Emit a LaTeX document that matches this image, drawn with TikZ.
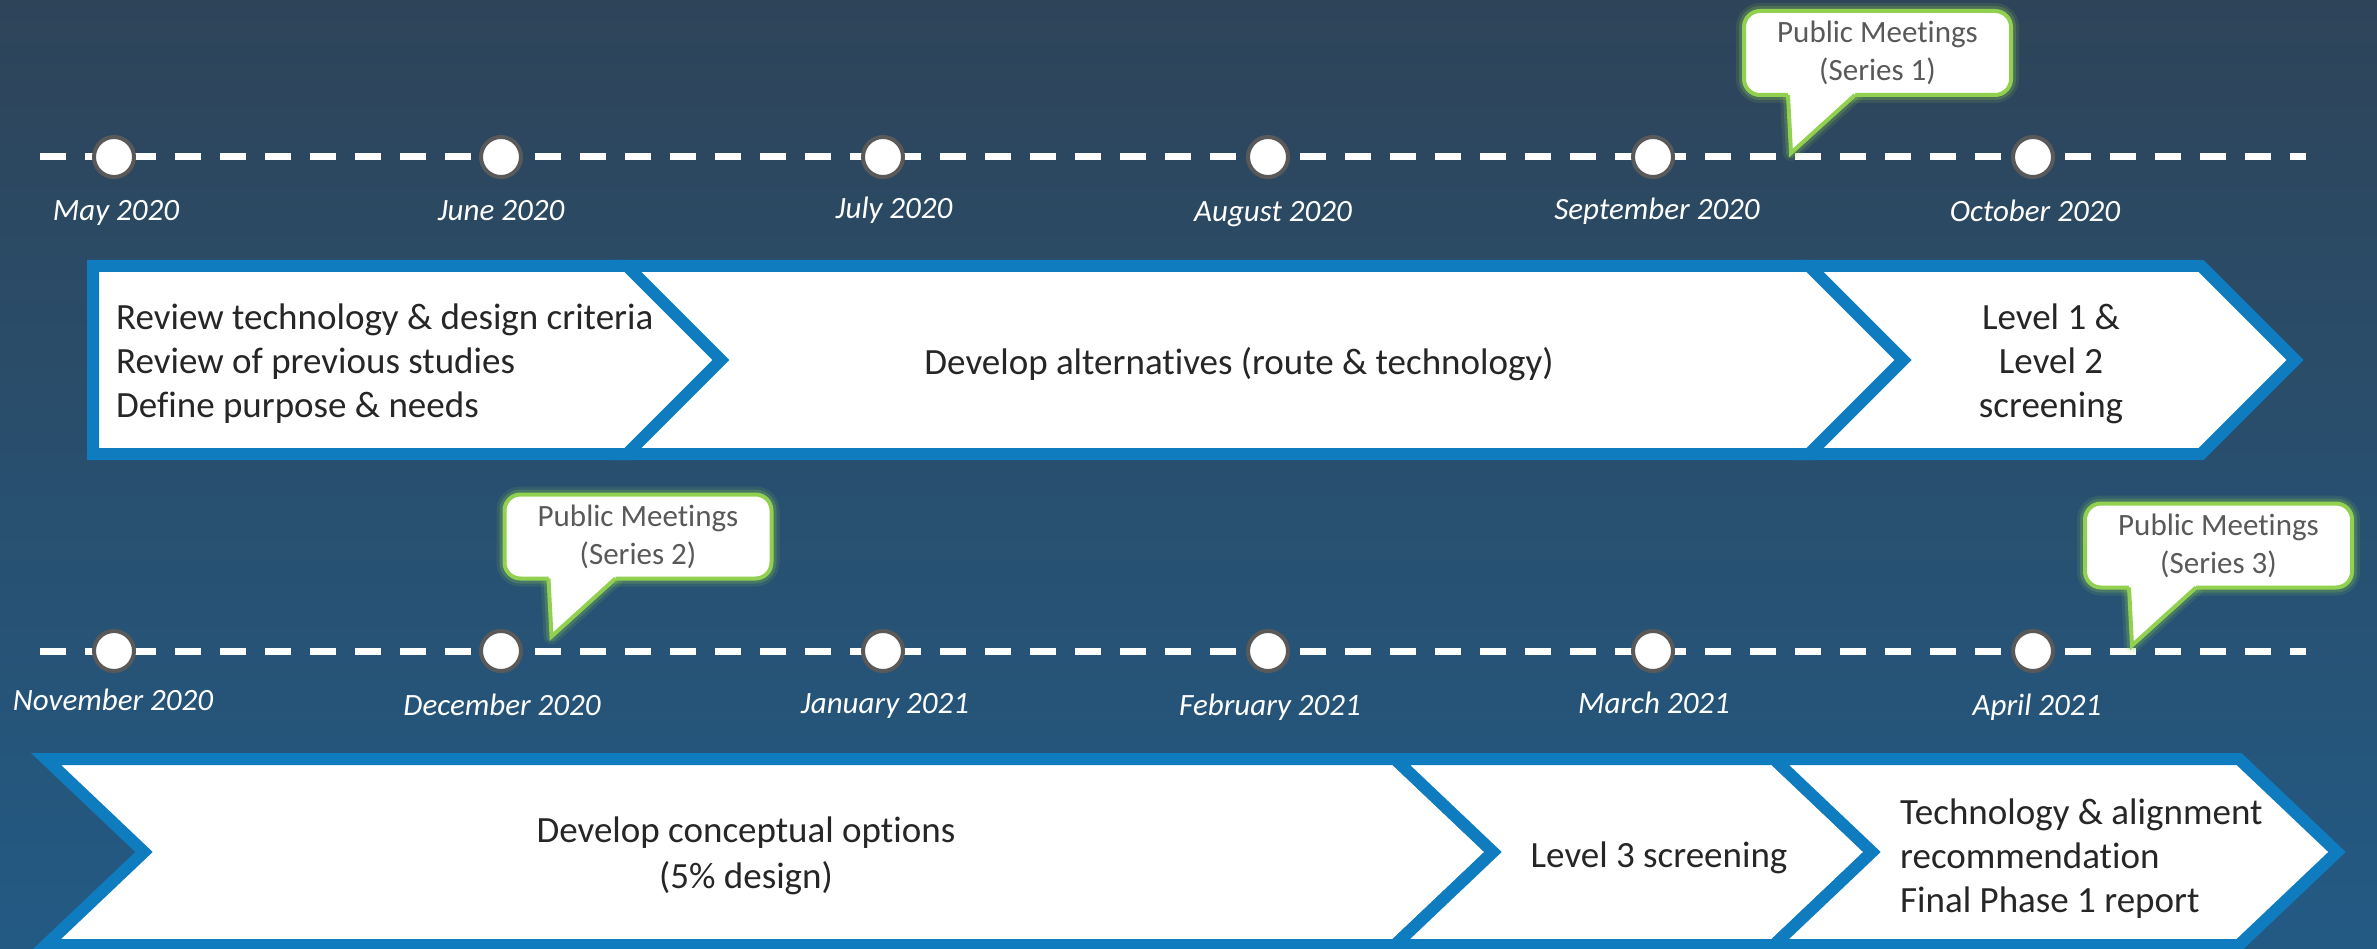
\documentclass[tikz,border=0pt]{standalone}
\usepackage{fontspec}
\setmainfont{Carlito}[Ligatures={NoCommon}]
\definecolor{bgtop}{HTML}{2E4459}
\definecolor{bgbot}{HTML}{235A84}
\definecolor{stripc}{HTML}{4A86BE}
\definecolor{chev}{HTML}{0F7CC0}
\definecolor{ink}{HTML}{262626}
\definecolor{pmgreen}{HTML}{92D050}
\definecolor{pmgray}{HTML}{595959}
\definecolor{dotgray}{HTML}{595959}
\newcommand\pmcallout[4]{%
  % #1 name, #2 center x, #3 center y, #4 text
  \pgfmathsetmacro\pmL{#2-133.5}%
  \pgfmathsetmacro\pmB{#3+42}%
  \pgfmathsetmacro\pmA{\pmL+44}%
  \pgfmathsetmacro\pmC{\pmL+111}%
  \pgfmathsetmacro\pmTx{\pmL+47}%
  \pgfmathsetmacro\pmTy{\pmB+58}%
  \pgfmathsetmacro\pmBu{\pmB-4}%
  \coordinate (#1a) at (\pmA,\pmB);
  \coordinate (#1b) at (\pmC,\pmB);
  \coordinate (#1tip) at (\pmTx,\pmTy);
  \draw[glowA] (#1a) -- (#1tip) -- (#1b);
  \draw[glowB] (#1a) -- (#1tip) -- (#1b);
  \node[pmbox] (#1) at (#2,#3) {#4};
  \fill[white] (\pmA,\pmBu) -- (#1a) -- (#1tip) -- (#1b) -- (\pmC,\pmBu) -- cycle;
  \draw[pmline] (#1a) -- (#1tip) -- (#1b);
}
\begin{document}
\begin{tikzpicture}[x=1pt,y=-1pt,
  chevron/.style={draw=chev, line width=12pt, fill=white, line join=miter},
  ctext/.style={text=ink, font=\fontsize{37}{44}\selectfont, inner sep=0pt},
  dashline/.style={draw=white, line width=7pt, dash pattern=on 25.5pt off 19.5pt},
  dot/.style={circle, draw=dotgray, fill=white, line width=4pt, minimum size=40pt, inner sep=0pt},
  month/.style={text=white, font=\fontsize{31}{37}\selectfont\itshape, inner sep=0pt, anchor=base},
  glowA/.style={draw=pmgreen, line width=16pt, draw opacity=0.12, line join=round, line cap=round},
  glowB/.style={draw=pmgreen, line width=10pt, draw opacity=0.22, line join=round, line cap=round},
  pmline/.style={draw=pmgreen, line width=4pt, line join=miter},
  pmbox/.style={rectangle, rounded corners=16pt, draw=pmgreen, line width=4pt, fill=white,
    minimum width=267pt, minimum height=84pt, inner sep=0pt, align=center, text=pmgray,
    font=\fontsize{31}{38}\selectfont,
    preaction={draw=pmgreen, line width=16pt, draw opacity=0.12},
    preaction={draw=pmgreen, line width=10pt, draw opacity=0.22}},
]
\useasboundingbox (0,0) rectangle (2377,949);
\shade[top color=bgtop, bottom color=bgbot] (0,0) rectangle (2377,949);
\shade[left color=bgtop, middle color=stripc, right color=bgtop] (0,0) rectangle (1800,4);

% ---------- top timeline ----------
\coordinate (t1s) at (40,157);
\coordinate (t1e) at (2306,157);
\draw[dashline] (t1s) -- (t1e);
\node[dot] (may) at (114,157) {};
\node[dot] (jun) at (501,157) {};
\node[dot] (jul) at (883,157) {};
\node[dot] (aug) at (1268,157) {};
\node[dot] (sep) at (1653,157) {};
\node[dot] (oct) at (2033,157) {};
\node[month] (lmay) at (116,221) {May 2020};
\node[month] (ljun) at (501,221) {June 2020};
\node[month] (ljul) at (894,219) {July 2020};
\node[month] (laug) at (1273,222) {August 2020};
\node[month] (lsep) at (1657,220) {September 2020};
\node[month] (loct) at (2035,222) {October 2020};

% ---------- top chevrons ----------
\draw[chevron] (93,266) -- (627,266) -- (721,360) -- (627,454) -- (93,454) -- cycle;
\draw[chevron] (627,266) -- (1809,266) -- (1903,360) -- (1809,454) -- (627,454) -- (721,360) -- cycle;
\draw[chevron] (1809,266) -- (2201,266) -- (2295,360) -- (2201,454) -- (1809,454) -- (1903,360) -- cycle;
\node[ctext, align=left, anchor=west] (c1) at (116,364) {Review technology \& design criteria\\Review of previous studies\\Define purpose \& needs};
\node[ctext] (c2) at (1239,364) {Develop alternatives (route \& technology)};
\node[ctext, align=center] (c3) at (2051,364) {Level 1 \&\\Level 2\\screening};

% ---------- bottom timeline ----------
\coordinate (t2s) at (40,651);
\coordinate (t2e) at (2306,651);
\draw[dashline] (t2s) -- (t2e);
\node[dot] (nov) at (114,651) {};
\node[dot] (dec) at (501,651) {};
\node[dot] (jan) at (883,651) {};
\node[dot] (feb) at (1268,651) {};
\node[dot] (mar) at (1653,651) {};
\node[dot] (apr) at (2033,651) {};
\node[month] (lnov) at (113,710) {November 2020};
\node[month] (ldec) at (502,715) {December 2020};
\node[month] (ljan) at (885,713) {January 2021};
\node[month] (lfeb) at (1270,715) {February 2021};
\node[month] (lmar) at (1654,713) {March 2021};
\node[month] (lapr) at (2037,715) {April 2021};

% ---------- bottom chevrons ----------
\draw[chevron] (46,759) -- (1395,759) -- (1493,852) -- (1395,945) -- (46,945) -- (144,852) -- cycle;
\draw[chevron] (1395,759) -- (1774,759) -- (1872,852) -- (1774,945) -- (1395,945) -- (1493,852) -- cycle;
\draw[chevron] (1774,759) -- (2239,759) -- (2337,852) -- (2239,945) -- (1774,945) -- (1872,852) -- cycle;
\node[ctext, align=center, font=\fontsize{37}{46}\selectfont] (c4) at (746,856) {Develop conceptual options\\(5\% design)};
\node[ctext] (c5) at (1659,858) {Level 3 screening};
\node[ctext, align=left, anchor=west] (c6) at (1900,859) {Technology \& alignment\\recommendation\\Final Phase 1 report};

% ---------- callouts ----------
\pmcallout{pm1}{1877.5}{53}{Public Meetings\\(Series 1)}
\pmcallout{pm2}{638}{536.5}{Public Meetings\\(Series 2)}
\pmcallout{pm3}{2218.5}{545.5}{Public Meetings\\(Series 3)}
\end{tikzpicture}
\end{document}
